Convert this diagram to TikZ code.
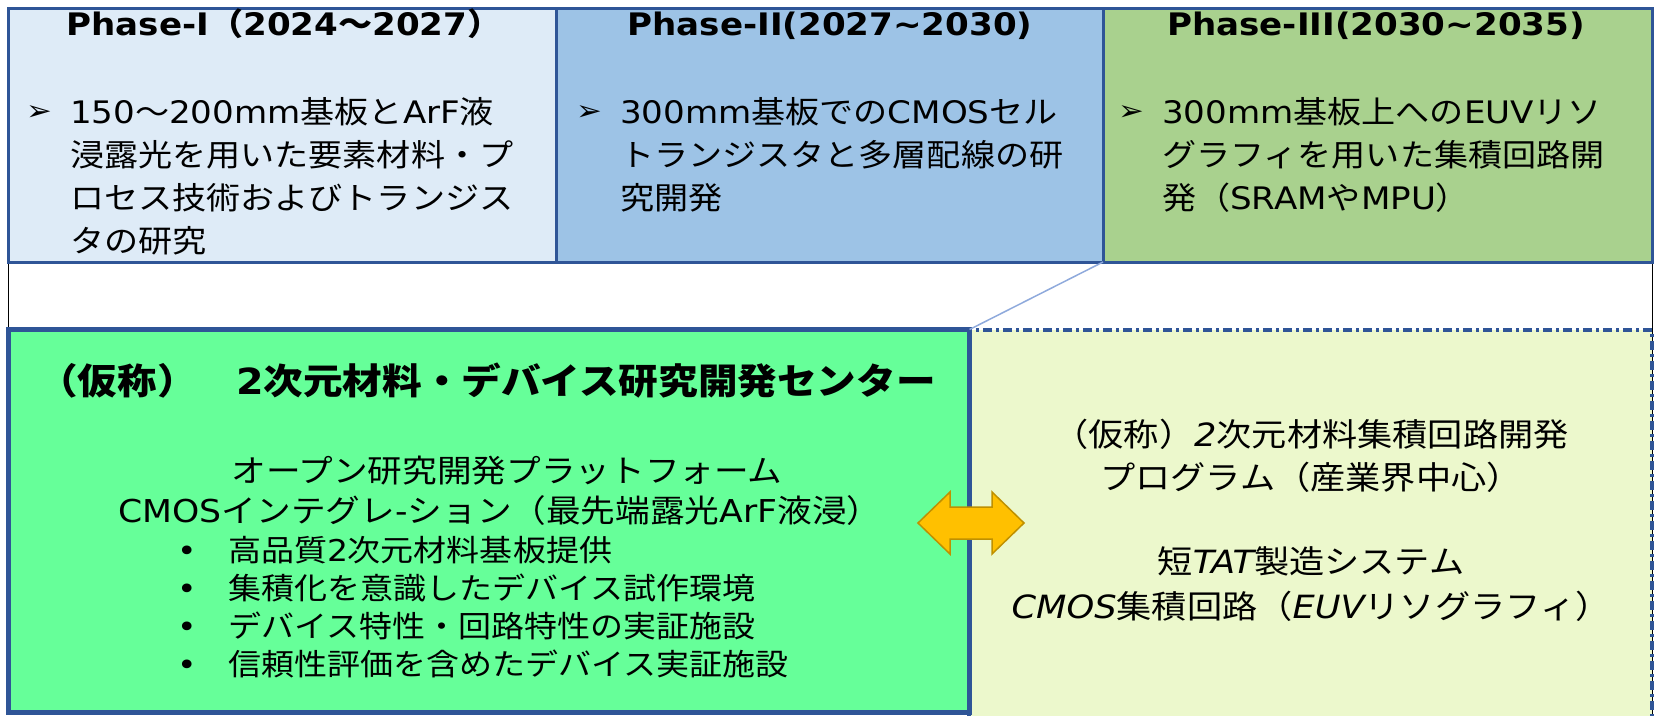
\documentclass[tikz,border=0pt]{standalone}
\usepackage{fontspec}
\setmainfont{DejaVu Sans}[FakeStretch=1.1]
\newfontfamily\latfont{DejaVu Sans}[FakeStretch=1.1]
\newfontfamily\jafont{Noto Sans CJK JP}[FakeStretch=1.1]
\XeTeXinterchartokenstate=1
\newXeTeXintercharclass\JaCls
\newcount\chc
\chc=32
\loop\ifnum\chc<"3000 \XeTeXcharclass\chc=0 \advance\chc by 1 \repeat
\chc="3000
\loop\ifnum\chc<"A000 \XeTeXcharclass\chc=\JaCls\relax \advance\chc by 1 \repeat
\chc="FF00
\loop\ifnum\chc<"FFF0 \XeTeXcharclass\chc=\JaCls\relax \advance\chc by 1 \repeat
\XeTeXinterchartoks 0 \JaCls = {\jafont}
\XeTeXinterchartoks 4095 \JaCls = {\jafont}
\XeTeXinterchartoks \JaCls 0 = {\latfont}
\XeTeXinterchartoks \JaCls 4095 = {\latfont}
\definecolor{bdblue}{HTML}{2F5597}
\definecolor{p1fill}{HTML}{DEEBF7}
\definecolor{p2fill}{HTML}{9DC3E6}
\definecolor{p3fill}{HTML}{A9D18E}
\definecolor{gfill}{HTML}{66FF99}
\definecolor{yfill}{HTML}{ECF8CC}
\definecolor{diagblue}{HTML}{8FAADC}
\definecolor{arrfill}{HTML}{FFC000}
\definecolor{arrdraw}{HTML}{BF9000}
\begin{document}
\begin{tikzpicture}[x=1pt,y=-1pt,inner sep=0pt,outer sep=0pt,
  boxbase/.style={rectangle, inner sep=0pt, outer sep=0pt, anchor=north west},
  phasebox/.style={boxbase, draw=bdblue, line width=3pt},
  ptitle/.style={anchor=base, font=\fontsize{31}{40}\selectfont\bfseries},
  pbody/.style={anchor=base west, font=\fontsize{31}{43}\selectfont},
  pbullet/.style={anchor=base west, font=\fontsize{28}{30}\selectfont},
  gtitle/.style={anchor=base, font=\fontsize{36}{44}\selectfont\bfseries},
  gline/.style={anchor=base, font=\fontsize{31.5}{40}\selectfont},
  glist/.style={anchor=base west, font=\fontsize{30}{38.3}\selectfont},
  yline/.style={anchor=base, font=\fontsize{32}{40}\selectfont},
  diag/.style={draw=diagblue, line width=1.5pt},
  dashdotline/.style={draw=bdblue, line width=3.5pt, dash pattern=on 9pt off 4pt on 3pt off 4pt},
  arrowsty/.style={fill=arrfill, draw=arrdraw, line width=1.5pt, line join=miter}]
\useasboundingbox (0,0) rectangle (1654,715);
% outer frame
\node[boxbase, draw=black, line width=1pt, minimum width=1643.5pt, minimum height=705pt] (frame) at (8.5,8) {};
% right (program) box
\node[boxbase, fill=yfill, minimum width=683pt, minimum height=386pt] (ybox) at (969,330) {};
\draw[dashdotline] (ybox.south west) -- (ybox.north west) -- (ybox.north east) -- (ybox.south east);
% left (center) box
\node[boxbase, draw=bdblue, fill=gfill, line width=4.5pt, minimum width=961pt, minimum height=383pt] (gbox) at (8.5,329.5) {};
% phase boxes
\node[phasebox, fill=p1fill, minimum width=548pt, minimum height=254pt] (p1) at (8,8) {};
\node[phasebox, fill=p2fill, minimum width=547pt, minimum height=254pt] (p2) at (556,8) {};
\node[phasebox, fill=p3fill, minimum width=549pt, minimum height=254pt] (p3) at (1103,8) {};
\draw[diag] (p3.south west) -- (gbox.north east);
% phase texts
\node[ptitle] (p1t) at (284,35) {Phase-I（2024～2027）};
\node[ptitle] (p2t) at (830,35) {Phase-II(2027{\char"7E}2030)};
\node[ptitle] (p3t) at (1376,35) {Phase-III(2030{\char"7E}2035)};
\node[pbullet] (p1b) at (26,120) {➢};
\node[pbody] (p1x) at (70,123) {\vtop{\hbox{150～200mm基板とArF液}\hbox{浸露光を用いた要素材料・プ}\hbox{ロセス技術およびトランジス}\hbox{タの研究}}};
\node[pbullet] (p2b) at (576,120) {➢};
\node[pbody] (p2x) at (620,123) {\vtop{\hbox{300mm基板でのCMOSセル}\hbox{トランジスタと多層配線の研}\hbox{究開発}}};
\node[pbullet] (p3b) at (1118,120) {➢};
\node[pbody] (p3x) at (1162,123) {\vtop{\hbox{300mm基板上へのEUVリソ}\hbox{グラフィを用いた集積回路開}\hbox{発（SRAMやMPU）}}};
% center texts
\node[gtitle] (gt) at (487,394) {（仮称）　2次元材料・デバイス研究開発センター};
\node[gline] (g1) at (507,482) {オープン研究開発プラットフォーム};
\node[gline] (g2) at (500,522) {CMOSインテグレ-ション（最先端露光ArF液浸）};
\node[glist] (gl) at (177,561) {\vtop{%
  \hbox{\makebox[51pt][l]{•}高品質2次元材料基板提供}%
  \hbox{\makebox[51pt][l]{•}集積化を意識したデバイス試作環境}%
  \hbox{\makebox[51pt][l]{•}デバイス特性・回路特性の実証施設}%
  \hbox{\makebox[51pt][l]{•}信頼性評価を含めたデバイス実証施設}}};
% program texts
\node[yline] (y1) at (1311,446) {（仮称）{\latfont\itshape 2}次元材料集積回路開発};
\node[yline] (y2) at (1311,489) {プログラム（産業界中心）};
\node[yline] (y3) at (1311,573) {短{\latfont\itshape TAT}製造システム};
\node[yline] (y4) at (1311,618) {{\latfont\itshape CMOS}集積回路（{\latfont\itshape EUV}リソグラフィ）};
% double arrow
\coordinate (ac) at (971,523);
\draw[arrowsty] ([shift={(-53,0)}]ac) -- ++(32,-31) -- ++(0,15) -- ++(42,0) -- ++(0,-15) -- ++(32,31) -- ++(-32,31) -- ++(0,-15) -- ++(-42,0) -- ++(0,15) -- cycle;
\end{tikzpicture}
\end{document}
